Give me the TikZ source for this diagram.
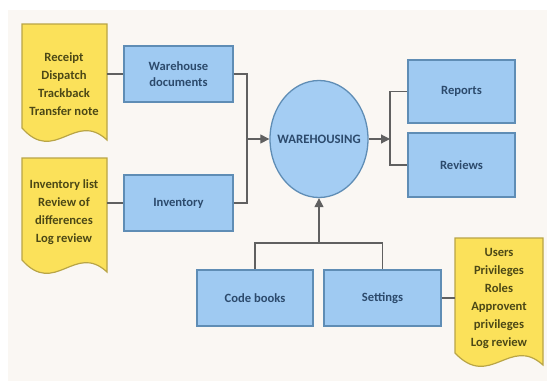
\documentclass[tikz,border=0pt]{standalone}
\usepackage{fontspec}
\setmainfont{Carlito}
\usetikzlibrary{arrows.meta,shapes.geometric}
\definecolor{bgc}{HTML}{FAF7F3}
\definecolor{boxfill}{HTML}{9FCAF2}
\definecolor{boxdraw}{HTML}{5F8DB5}
\definecolor{boxtext}{HTML}{2C4A6C}
\definecolor{docfill}{HTML}{FBE15A}
\definecolor{docdraw}{HTML}{B9A546}
\definecolor{doctext}{HTML}{4C4816}
\definecolor{linec}{HTML}{606060}
\tikzset{
  bluebox/.style={draw=boxdraw, fill=boxfill, line width=1.3pt, text=boxtext,
    font=\fontsize{12.6}{16}\selectfont\bfseries, align=center, inner sep=0pt},
  hub/.style={ellipse, draw=boxdraw, fill=boxfill!95!white, line width=1.3pt,
    inner sep=0pt, minimum width=98pt, minimum height=117pt},
  hubtxt/.style={text=boxtext, font=\fontsize{12.8}{14}\selectfont\bfseries, inner sep=0pt},
  docshape/.style={draw=docdraw, fill=docfill, line width=1.2pt},
  doctxt/.style={text=doctext, font=\fontsize{12.6}{18}\selectfont\bfseries, align=center, inner sep=0pt},
  conn/.style={draw=linec, line width=1.2pt},
  arr/.style={conn, -{Triangle[length=9pt,width=9pt]}}
}
\begin{document}
\begin{tikzpicture}[x=1pt,y=-1pt]
\useasboundingbox (0,0) rectangle (547,381);
\fill[white] (0,0) rectangle (547,381);
\fill[bgc] (8,10) rectangle (547,381);

% documents (yellow)
\path[docshape] (22,24) -- (107,24) -- (107,140)
  .. controls (75,110) and (55,165) .. (22,128) -- cycle;
\path[docshape] (22,158) -- (107,158) -- (107,272)
  .. controls (75,242) and (55,297) .. (22,260) -- cycle;
\path[docshape] (455,238) -- (543,238) -- (543,365)
  .. controls (510,335) and (490,390) .. (455,353) -- cycle;
\node[doctxt] (t1) at (64,84) {Receipt\\Dispatch\\Trackback\\Transfer note};
\node[doctxt] (t2) at (64,212) {Inventory list\\Review of\\differences\\Log review};
\node[doctxt] (t3) at (499,298) {Users\\Privileges\\Roles\\Approvent\\privileges\\Log review};
\coordinate (d1) at (107,74);
\coordinate (d2) at (107,203);
\coordinate (d3) at (455,298);

% boxes
\node[bluebox, minimum width=109pt, minimum height=56pt] (wdoc) at (178.5,74) {Warehouse\\documents};
\node[bluebox, minimum width=109pt, minimum height=56pt] (inv) at (178.5,203) {Inventory};
\node[hub] (wh) at (319,139) {};
\node[hubtxt] (whl) at (wh.center) {WAREHOUSING};
\node[bluebox, minimum width=107pt, minimum height=63pt] (rep) at (461.5,91.5) {Reports};
\node[bluebox, minimum width=107pt, minimum height=64pt] (rev) at (461.5,165) {Reviews};
\node[bluebox, minimum width=116pt, minimum height=56pt] (code) at (255,298) {Code books};
\node[bluebox, minimum width=117pt, minimum height=56pt] (set) at (382.5,298) {Settings};

% junctions
\coordinate (jl) at (247,139);
\coordinate (jr) at (390,139);
\coordinate (jb) at (319,243);

% connectors
\draw[conn] (d1) -- (wdoc.west);
\draw[conn] (d2) -- (inv.west);
\draw[conn] (set.east) -- (d3);
\draw[conn] (wdoc.east) -| (jl) |- (inv.east);
\draw[arr] (jl) -- (wh.west);
\draw[arr] (wh.east) -- (jr);
\draw[conn] (rep.west) -| (jr) |- (rev.west);
\draw[conn] (code.north) |- (jb) -| (set.north);
\draw[arr] (jb) -- (wh.south);
\end{tikzpicture}
\end{document}
